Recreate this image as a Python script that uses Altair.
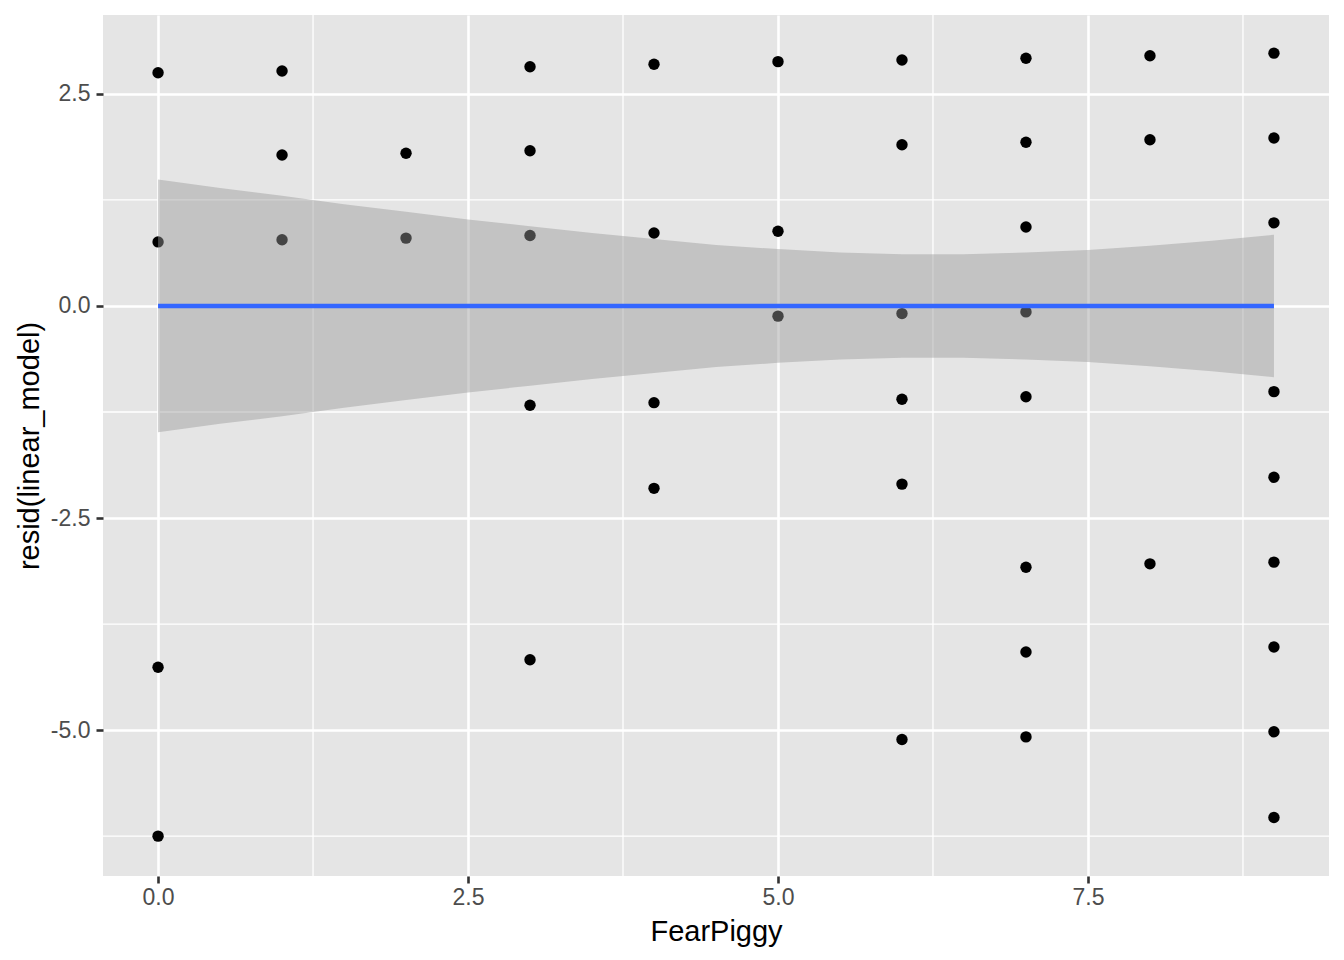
import altair as alt
import pandas as pd

fear = [0, 0, 0, 0,
        1, 1, 1,
        2, 2,
        3, 3, 3, 3, 3,
        4, 4, 4, 4,
        5, 5, 5,
        6, 6, 6, 6, 6, 6,
        7, 7, 7, 7, 7, 7, 7, 7,
        8, 8, 8,
        9, 9, 9, 9, 9, 9, 9, 9, 9]
resid = [2.75, 0.755, -4.26, -6.25,
         2.77, 1.78, 0.78,
         1.80, 0.80,
         2.82, 1.83, 0.83, -1.17, -4.17,
         2.85, 0.86, -1.14, -2.15,
         2.88, 0.88, -0.12,
         2.90, 1.90, -0.09, -1.10, -2.10, -5.11,
         2.92, 1.93, 0.93, -0.07, -1.07, -3.08, -4.08, -5.08,
         2.95, 1.96, -3.04,
         2.98, 1.98, 0.98, -1.01, -2.02, -3.02, -4.02, -5.02, -6.03]

band_x = [0, 0.5, 1, 1.5, 2, 2.5, 3, 3.5, 4, 4.5, 5, 5.5, 6, 6.5, 7, 7.5, 8, 8.5, 9]
band_hi = [1.49, 1.39, 1.30, 1.20, 1.11, 1.02, 0.94, 0.86, 0.79, 0.72, 0.67, 0.63,
           0.61, 0.61, 0.63, 0.66, 0.71, 0.77, 0.84]
band_lo = [-v for v in band_hi]

fit_x = [0, 9]
fit_y = [0.0, 0.0]

x_minor = [1.25, 3.75, 6.25, 8.75]
y_minor = [-6.25, -3.75, -1.25, 1.25]

pts = pd.DataFrame({"FearPiggy": fear, "resid": resid})
band = pd.DataFrame({"FearPiggy": band_x, "lo": band_lo, "hi": band_hi})
fit = pd.DataFrame({"FearPiggy": fit_x, "resid": fit_y})

xscale = alt.Scale(domain=[-0.444, 9.444], nice=False, zero=False)
yscale = alt.Scale(domain=[-6.72, 3.43], nice=False, zero=False)

FONT = "Liberation Sans"
LABEL = "datum.value < 0 ? '-' + format(-datum.value, '.1f') : format(datum.value, '.1f')"

xaxis = alt.Axis(values=[0, 2.5, 5, 7.5], labelExpr=LABEL, title="FearPiggy",
                 grid=True, gridColor="white", gridWidth=2.6,
                 domain=False, tickColor="#333333", tickWidth=2.6, tickSize=7,
                 labelColor="#4D4D4D", labelFontSize=23, labelFont=FONT,
                 labelPadding=3, titleFont=FONT, titleFontSize=29,
                 titleFontWeight="normal", titleColor="black", titlePadding=8)
yaxis = alt.Axis(values=[-5, -2.5, 0, 2.5], labelExpr=LABEL, title="resid(linear_model)",
                 grid=True, gridColor="white", gridWidth=2.6,
                 domain=False, tickColor="#333333", tickWidth=2.6, tickSize=7,
                 labelColor="#4D4D4D", labelFontSize=23, labelFont=FONT,
                 labelPadding=6, titleFont=FONT, titleFontSize=29,
                 titleFontWeight="normal", titleColor="black", titlePadding=6)

minor_x = alt.Chart(pd.DataFrame({"v": x_minor})).mark_rule(
    color="white", strokeWidth=1.3).encode(x=alt.X("v:Q", scale=xscale, axis=xaxis))
minor_y = alt.Chart(pd.DataFrame({"v": y_minor})).mark_rule(
    color="white", strokeWidth=1.3).encode(y=alt.Y("v:Q", scale=yscale, axis=yaxis))

points = alt.Chart(pts).mark_circle(size=130, color="black", opacity=1).encode(
    x=alt.X("FearPiggy:Q", scale=xscale, axis=xaxis),
    y=alt.Y("resid:Q", scale=yscale, axis=yaxis),
)

ribbon = alt.Chart(band).mark_area(color="#999999", opacity=0.45).encode(
    x=alt.X("FearPiggy:Q", scale=xscale, axis=xaxis),
    y=alt.Y("lo:Q", scale=yscale, axis=yaxis),
    y2="hi:Q",
)

line = alt.Chart(fit).mark_line(color="#3366FF", strokeWidth=4.5).encode(
    x=alt.X("FearPiggy:Q", scale=xscale, axis=xaxis),
    y=alt.Y("resid:Q", scale=yscale, axis=yaxis),
)

chart = alt.layer(minor_x, minor_y, points, ribbon, line).properties(
    width=1226, height=861,
    background="white",
    autosize=alt.AutoSizeParams(type="none"),
    padding={"left": 95, "top": 7, "right": 7, "bottom": 76},
).configure_view(fill="#E5E5E5", stroke=None)

chart.save("out.html", embed_options={"renderer": "svg", "actions": False})
